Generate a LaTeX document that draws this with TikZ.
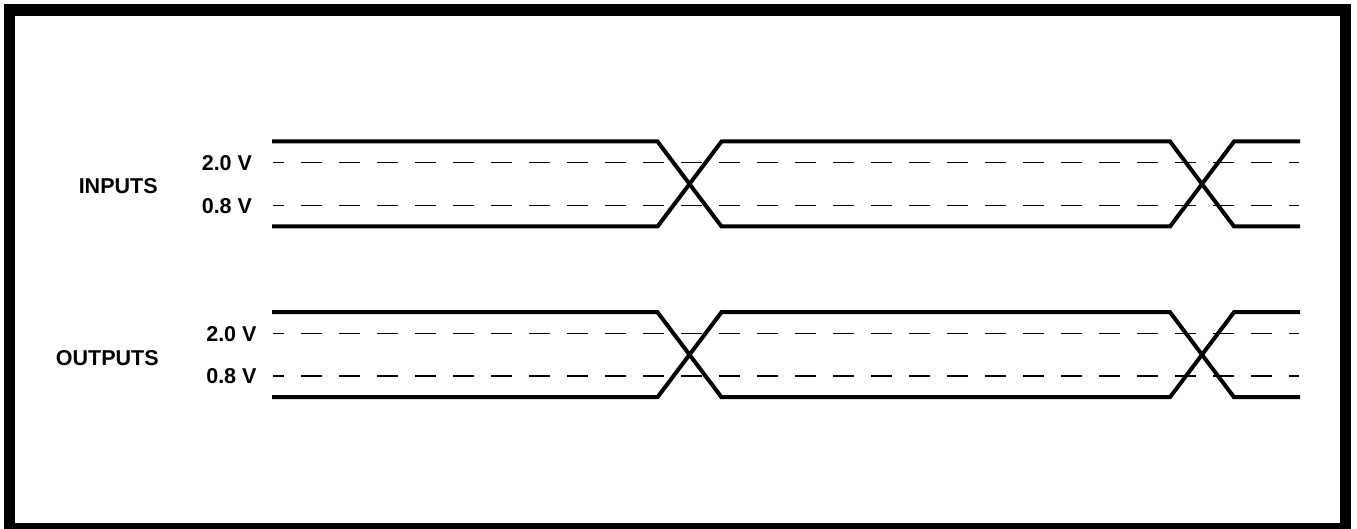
\documentclass[tikz,border=0pt]{standalone}
\usepackage{fontspec}
\setmainfont{Liberation Sans}
\begin{document}
\begin{tikzpicture}[x=1pt,y=-1pt,
  sig/.style={line width=4pt,line join=miter},
  thr/.style={line width=1.1pt,dash pattern=on 21pt off 17pt,dash phase=10pt},
  lbl/.style={inner sep=0pt,anchor=base east,font=\bfseries\fontsize{21.5}{22}\selectfont}]
\useasboundingbox (0,0) rectangle (1357,529);
\clip (0,0) rectangle (1357,529);
\draw[line width=11.5pt] (9.25,10.25) rectangle (1345.5,528.25);
\foreach \o/\n in {0/in,170.7/out}{
  \draw[thr] (273,162.7+\o) -- (1299,162.7+\o);
  \draw[thr] (273,205.3+\o) -- (1299,205.3+\o);
  \draw[sig] (272,141.5+\o) -- (657.5,141.5+\o) -- (721.5,226.5+\o) -- (1170,226.5+\o) -- (1234,141.5+\o) -- (1300,141.5+\o);
  \draw[sig] (272,226.5+\o) -- (657.5,226.5+\o) -- (721.5,141.5+\o) -- (1170,141.5+\o) -- (1234,226.5+\o) -- (1300,226.5+\o);
}
\node[lbl] (inputs) at (157.8,193.5) {INPUTS};
\node[lbl] (in20) at (252.2,170.8) {2.0 V};
\node[lbl] (in08) at (252.2,213.4) {0.8 V};
\node[lbl] (outputs) at (158.8,365) {OUTPUTS};
\node[lbl] (out20) at (256.7,341.7) {2.0 V};
\node[lbl] (out08) at (256.7,383.3) {0.8 V};
\end{tikzpicture}
\end{document}
